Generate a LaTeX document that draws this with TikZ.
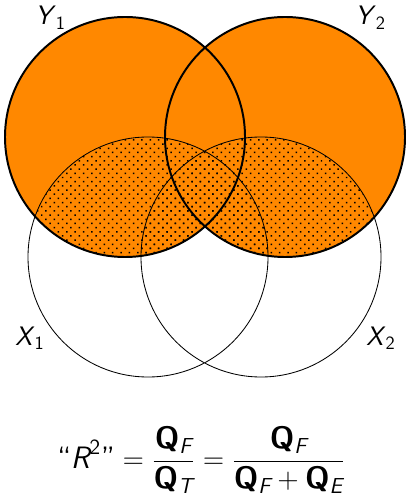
\documentclass[tikz,border=0pt]{standalone}
\usepackage{amsmath}
\usetikzlibrary{patterns.meta}
\definecolor{venn orange}{RGB}{255,136,0}
% Sans serif letters for the set names and the formula
\newcommand\sfit[1]{\textsf{\itshape #1}}
\newcommand\sfbf[1]{\textsf{\bfseries #1}}
\tikzset{
    % Solid fill of the two Y sets
    y fill/.style={fill=venn orange},
%
    % A heavy outline for the Y sets
    y line/.style={draw, line width=1.4pt},
%
    % A light outline for the X sets
    x line/.style={draw, line width=0.6pt},
%
    % Dotted fill where the Y sets overlap the X sets
    shared fill/.style={pattern={Dots[distance=4.2pt, radius=0.75pt, angle=45]}},
%
    % Names of the sets
    set label/.style={font=\fontsize{19}{23}\selectfont, inner sep=0, anchor=base west}}

\begin{document}
\begin{tikzpicture}[x=0.25mm, y=-0.25mm]
\useasboundingbox (0,0) rectangle (409,499);

% Centres of the four sets
\coordinate (y1) at (125,137);
\coordinate (y2) at (285,137);
\coordinate (x1) at (148,257);
\coordinate (x2) at (261,257);

% Orange Y sets
\path[y fill] (y1) circle[radius=120] (y2) circle[radius=120];

% Dots where they meet the X sets
\begin{scope}
    \clip (x1) circle[radius=120];
    \path[shared fill] (y1) circle[radius=120] (y2) circle[radius=120];
\end{scope}
\begin{scope}
    \clip (x2) circle[radius=120];
    \path[shared fill] (y1) circle[radius=120] (y2) circle[radius=120];
\end{scope}

% Outlines
\path[x line] (x1) circle[radius=120] (x2) circle[radius=120];
\path[y line] (y1) circle[radius=120] (y2) circle[radius=120];

% Labels
\path
    node[set label] (y1 label) at (35,25) {\sfit{Y}$_{\textsf{1}}$}
    node[set label] (y2 label) at (355,25) {\sfit{Y}$_{\textsf{2}}$}
    node[set label] (x1 label) at (15,345) {\sfit{X}$_{\textsf{1}}$}
    node[set label] (x2 label) at (366,345) {\sfit{X}$_{\textsf{2}}$};

\node[font=\fontsize{22}{26}\selectfont, inner sep=0] (ratio) at (201,460)
    {$\text{\sffamily``}\sfit{R}^{\textsf{2}}\text{\sffamily''}
      = \dfrac{\sfbf{Q}_{\sfit{F}}}{\sfbf{Q}_{\sfit{T}}}
      = \dfrac{\sfbf{Q}_{\sfit{F}}}{\sfbf{Q}_{\sfit{F}} + \sfbf{Q}_{\sfit{E}}}$};

\end{tikzpicture}
\end{document}
